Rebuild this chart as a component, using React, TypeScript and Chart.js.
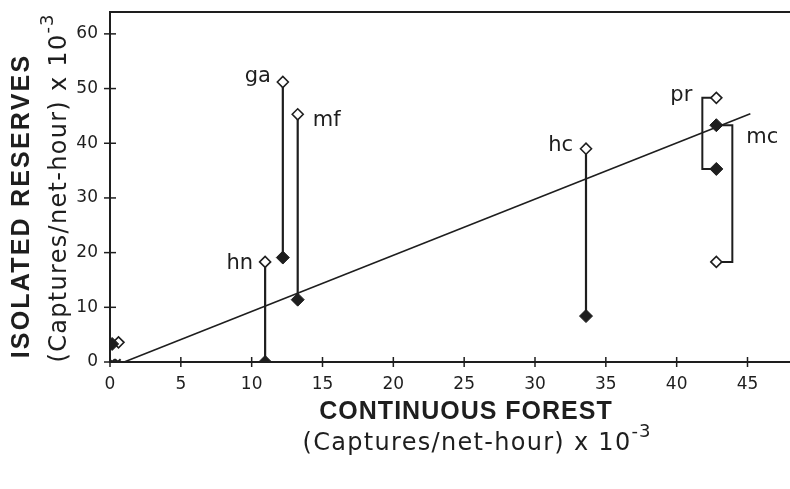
import React, { useEffect, useRef } from "react";
import { Chart, registerables } from "chart.js";

Chart.register(...registerables);

// ---- data ----
const sites = ["hn", "ga", "mf", "hc", "pr", "mc"];
const continuousForest = [10.95, 12.2, 13.25, 33.6, 42.8, 42.8];
const isolatedOpen = [18.3, 51.2, 45.3, 39.0, 48.3, 18.3];
const isolatedFilled = [0, 19.1, 11.4, 8.4, 35.3, 43.3];
const originFilledX = [0.15];
const originFilledY = [3.3];
const originOpenX = [0.6];
const originOpenY = [3.6];
const zeroMarkX = [0.15, 0.55];
const zeroMarkY = [0, 0];
const regressionX = [1, 45.2];
const regressionY = [0, 45.4];
const xTicks = [0, 5, 10, 15, 20, 25, 30, 35, 40, 45];
const yTicks = [0, 10, 20, 30, 40, 50, 60];
const xMin = 0, xMax = 48, yMin = 0, yMax = 64;

const INK = "#1e1e1e";

// label placement (pixel offsets from the anchor marker)
const labelAnchor: Record<string, "open" | "filled"> = { hn: "open", ga: "open", mf: "open", hc: "open", pr: "open", mc: "filled" };
const labelStyle: Record<string, { dx: number; dy: number; align: CanvasTextAlign }> = {
  hn: { dx: -12, dy: 2, align: "right" },
  ga: { dx: -12, dy: -5, align: "right" },
  mf: { dx: 15, dy: 6, align: "left" },
  hc: { dx: -13, dy: -3, align: "right" },
  pr: { dx: -24, dy: -2, align: "right" },
  mc: { dx: 30, dy: 12, align: "left" },
};
// pairs joined by brackets instead of straight lines
const bracketSide: Record<string, number> = { pr: -14, mc: 16 };

const decorPlugin = {
  id: "decor",
  beforeDatasetsDraw(chart: any) {
    const { ctx } = chart;
    const xs = chart.scales.x, ys = chart.scales.y;
    ctx.save();
    ctx.strokeStyle = INK;
    ctx.lineWidth = 2;
    sites.forEach((s, i) => {
      if (bracketSide[s] === undefined) return;
      const px = xs.getPixelForValue(continuousForest[i]);
      const y1 = ys.getPixelForValue(isolatedOpen[i]);
      const y2 = ys.getPixelForValue(isolatedFilled[i]);
      const bx = px + bracketSide[s];
      ctx.beginPath();
      ctx.moveTo(px, y1);
      ctx.lineTo(bx, y1);
      ctx.lineTo(bx, y2);
      ctx.lineTo(px, y2);
      ctx.stroke();
    });
    ctx.restore();
  },
  afterDraw(chart: any) {
    const { ctx, chartArea } = chart;
    const xs = chart.scales.x, ys = chart.scales.y;
    ctx.save();
    ctx.strokeStyle = INK;
    ctx.lineWidth = 2;
    // top border
    ctx.beginPath();
    ctx.moveTo(chartArea.left, chartArea.top);
    ctx.lineTo(chartArea.right, chartArea.top);
    ctx.stroke();
    // crossing tick marks
    ctx.lineWidth = 1.5;
    xTicks.forEach((v) => {
      const p = xs.getPixelForValue(v);
      ctx.beginPath();
      ctx.moveTo(p, chartArea.bottom - 5);
      ctx.lineTo(p, chartArea.bottom + 5);
      ctx.stroke();
    });
    yTicks.forEach((v) => {
      const p = ys.getPixelForValue(v);
      ctx.beginPath();
      ctx.moveTo(chartArea.left - 6, p);
      ctx.lineTo(chartArea.left + 6, p);
      ctx.stroke();
    });
    // site labels
    ctx.fillStyle = INK;
    ctx.font = "21px 'DejaVu Sans'";
    ctx.textBaseline = "middle";
    sites.forEach((s, i) => {
      const st = labelStyle[s];
      const yv = labelAnchor[s] === "open" ? isolatedOpen[i] : isolatedFilled[i];
      const px = xs.getPixelForValue(continuousForest[i]);
      const py = ys.getPixelForValue(yv);
      ctx.textAlign = st.align;
      ctx.fillText(s, px + st.dx, py + st.dy);
    });

    const boldFont = "bold 25px 'Liberation Sans'";
    const subFont = "24px 'DejaVu Sans'";
    const supFont = "18px 'DejaVu Sans'";
    const subMain = "(Captures/net-hour) x 10";
    const subSup = "-3";
    const drawBold = (text: string, cx: number, cy: number, spacing: number) => {
      ctx.font = boldFont;
      (ctx as any).letterSpacing = spacing + "px";
      const w = ctx.measureText(text).width;
      ctx.textAlign = "left";
      ctx.fillText(text, cx - w / 2, cy);
      (ctx as any).letterSpacing = "0px";
    };
    const drawSub = (cx: number, cy: number) => {
      ctx.font = subFont;
      (ctx as any).letterSpacing = "1.3px";
      const w1 = ctx.measureText(subMain).width;
      (ctx as any).letterSpacing = "1px";
      ctx.font = supFont;
      const w2 = ctx.measureText(subSup).width;
      const start = cx - (w1 + w2) / 2;
      ctx.textAlign = "left";
      ctx.font = subFont;
      (ctx as any).letterSpacing = "1.3px";
      ctx.fillText(subMain, start, cy);
      (ctx as any).letterSpacing = "1px";
      ctx.font = supFont;
      ctx.fillText(subSup, start + w1, cy - 12);
      (ctx as any).letterSpacing = "0px";
    };

    // x-axis title
    ctx.textBaseline = "middle";
    drawBold("CONTINUOUS FOREST", 466, chartArea.bottom + 50, 1);
    drawSub(477, chartArea.bottom + 82);

    // y-axis title
    ctx.save();
    ctx.translate(chartArea.left - 88, 206);
    ctx.rotate(-Math.PI / 2);
    drawBold("ISOLATED RESERVES", 0, 0, 2.2);
    ctx.restore();
    ctx.save();
    ctx.translate(chartArea.left - 50, 188);
    ctx.rotate(-Math.PI / 2);
    drawSub(0, 0);
    ctx.restore();

    ctx.restore();
  },
};

export default function App() {
  const ref = useRef<HTMLCanvasElement>(null);
  useEffect(() => {
    document.body.style.margin = "0";
    const canvas = ref.current!;
    const pairLines = sites
      .map((s, i) => ({ s, i }))
      .filter(({ s }) => bracketSide[s] === undefined)
      .map(({ i }) => ({
        type: "line" as const,
        data: [
          { x: continuousForest[i], y: isolatedOpen[i] },
          { x: continuousForest[i], y: isolatedFilled[i] },
        ],
        borderColor: INK,
        borderWidth: 2.2,
        pointRadius: 0,
        showLine: true,
        order: 5,
      }));
    const chart = new Chart(canvas, {
      type: "scatter",
      data: {
        datasets: [
          {
            data: continuousForest.map((x, i) => ({ x, y: isolatedFilled[i] })).concat(
              originFilledX.map((x, i) => ({ x, y: originFilledY[i] }))
            ),
            pointStyle: "rectRot",
            pointRadius: 6.5,
            backgroundColor: INK,
            borderColor: INK,
            borderWidth: 1,
            order: 1,
          },
          {
            data: continuousForest.map((x, i) => ({ x, y: isolatedOpen[i] })).concat(
              originOpenX.map((x, i) => ({ x, y: originOpenY[i] }))
            ),
            pointStyle: "rectRot",
            pointRadius: 5.5,
            backgroundColor: "#ffffff",
            borderColor: INK,
            borderWidth: 1.6,
            order: 1,
          },
          {
            data: zeroMarkX.map((x, i) => ({ x, y: zeroMarkY[i] })),
            pointStyle: "crossRot",
            pointRadius: 4,
            borderColor: INK,
            borderWidth: 2,
            order: 2,
          },
          {
            type: "line",
            data: regressionX.map((x, i) => ({ x, y: regressionY[i] })),
            borderColor: INK,
            borderWidth: 1.6,
            pointRadius: 0,
            showLine: true,
            order: 6,
          },
          ...pairLines,
        ] as any,
      },
      options: {
        responsive: false,
        animation: false,
        devicePixelRatio: 1,
        layout: { autoPadding: false, padding: { top: 12, right: 0, left: 0, bottom: 0 } },
        plugins: { legend: { display: false }, tooltip: { enabled: false } },
        scales: {
          x: {
            type: "linear",
            min: xMin,
            max: xMax,
            afterBuildTicks: (sc: any) => {
              sc.ticks = xTicks.map((v) => ({ value: v }));
            },
            afterFit: (sc: any) => {
              sc.height = 127;
              sc.paddingLeft = 0;
              sc.paddingRight = 0;
            },
            grid: { display: false, drawTicks: false },
            border: { display: true, color: INK, width: 2 },
            ticks: { color: INK, font: { family: "'DejaVu Sans'", size: 17 }, padding: 12, maxRotation: 0 },
          },
          y: {
            type: "linear",
            min: yMin,
            max: yMax,
            afterBuildTicks: (sc: any) => {
              sc.ticks = yTicks.map((v) => ({ value: v }));
            },
            afterFit: (sc: any) => {
              sc.width = 110;
              sc.paddingTop = 0;
              sc.paddingBottom = 0;
            },
            grid: { display: false, drawTicks: false },
            border: { display: true, color: INK, width: 2 },
            ticks: { color: INK, font: { family: "'DejaVu Sans'", size: 17 }, padding: 12 },
          },
        },
      },
      plugins: [decorPlugin],
    });
    return () => chart.destroy();
  }, []);
  return <canvas ref={ref} width={790} height={489} style={{ display: "block", width: 790, height: 489 }} />;
}
